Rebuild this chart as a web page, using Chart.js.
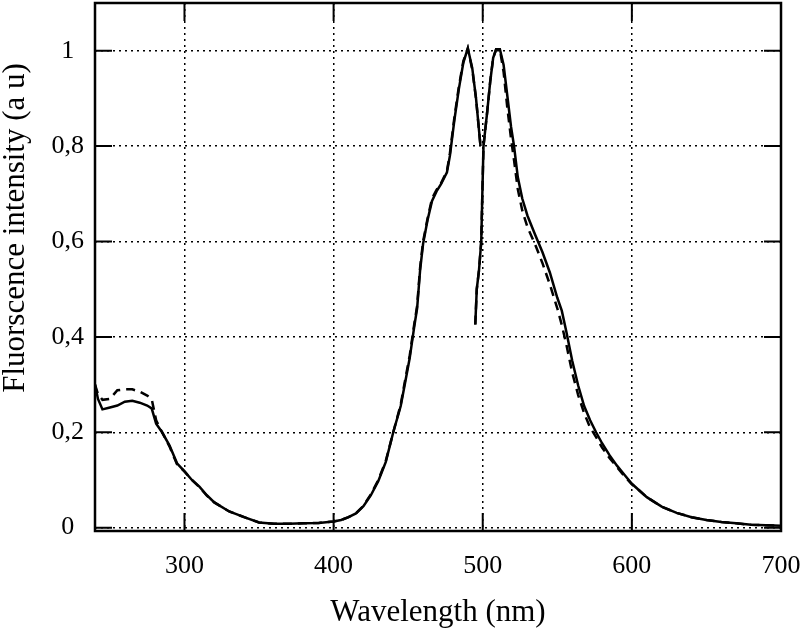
<!DOCTYPE html>
<html>
<head>
<meta charset="utf-8">
<title>Fluorescence spectra</title>
<script src="https://cdn.jsdelivr.net/npm/chart.js@4"></script>
<style>
  body { margin: 0; background: #fff; }
  canvas { display: block; }
</style>
</head>
<body>
<canvas id="myChart" width="800" height="637"></canvas>
<script>
// excitation spectrum (left peak)
const exWl = [240, 242, 245, 250, 255, 260, 265, 270, 275, 278, 281, 285, 290, 295, 300, 305, 310, 315, 320, 330, 340, 350, 360, 370, 380, 390, 400, 405, 410, 415, 420, 425, 430, 435, 440, 445, 448, 451, 454, 456, 458, 460, 463, 466, 469, 472, 476, 478, 481, 484, 487, 490, 493, 495.5, 498.5];
const exSolid = [0.30, 0.27, 0.248, 0.252, 0.256, 0.264, 0.266, 0.262, 0.256, 0.25, 0.218, 0.2, 0.172, 0.135, 0.118, 0.1, 0.086, 0.068, 0.053, 0.034, 0.022, 0.011, 0.008, 0.008, 0.009, 0.01, 0.013, 0.016, 0.022, 0.03, 0.045, 0.068, 0.098, 0.138, 0.2, 0.255, 0.305, 0.355, 0.42, 0.46, 0.54, 0.595, 0.645, 0.685, 0.705, 0.72, 0.745, 0.78, 0.855, 0.92, 0.975, 1.005, 0.963, 0.9, 0.8];
const exDashed = [0.30, 0.28, 0.268, 0.27, 0.288, 0.29, 0.29, 0.285, 0.277, 0.27, 0.225, 0.2, 0.17, 0.133, 0.118, 0.1, 0.085, 0.067, 0.053, 0.034, 0.022, 0.011, 0.008, 0.008, 0.009, 0.01, 0.013, 0.016, 0.022, 0.03, 0.046, 0.07, 0.1, 0.14, 0.2, 0.258, 0.31, 0.36, 0.425, 0.465, 0.545, 0.6, 0.648, 0.69, 0.708, 0.722, 0.748, 0.785, 0.86, 0.925, 0.978, 1.005, 0.96, 0.9, 0.8];

// emission spectrum (right peak)
const emWl = [495, 496, 497.5, 499, 499.8, 500.5, 503, 505, 507, 509, 511.5, 514, 516.5, 519, 521, 523.5, 526.5, 530, 535, 540, 545, 550, 553, 556, 560, 564, 568, 572, 576, 580, 585, 590, 595, 600, 605, 610, 620, 630, 640, 650, 660, 670, 680, 690, 700];
const emSolid = [0.426, 0.5, 0.54, 0.6, 0.71, 0.8, 0.872, 0.935, 0.985, 1.003, 1.003, 0.97, 0.905, 0.84, 0.8, 0.735, 0.69, 0.654, 0.615, 0.578, 0.535, 0.482, 0.455, 0.412, 0.35, 0.298, 0.255, 0.225, 0.2, 0.177, 0.152, 0.13, 0.111, 0.092, 0.078, 0.064, 0.044, 0.031, 0.022, 0.016, 0.012, 0.009, 0.006, 0.005, 0.004];
const emDashed = [0.426, 0.5, 0.54, 0.6, 0.71, 0.8, 0.872, 0.935, 0.985, 1.003, 1.003, 0.955, 0.88, 0.815, 0.77, 0.71, 0.665, 0.63, 0.595, 0.555, 0.51, 0.46, 0.425, 0.385, 0.325, 0.278, 0.24, 0.21, 0.19, 0.168, 0.146, 0.127, 0.108, 0.091, 0.078, 0.064, 0.044, 0.031, 0.022, 0.016, 0.012, 0.009, 0.006, 0.005, 0.004];

const xTicks = [300, 400, 500, 600, 700];
const yTicks = [0, 0.2, 0.4, 0.6, 0.8, 1];

const serif = "'Liberation Serif', 'Times New Roman', serif";

function toPoints(xs, ys) {
  var pts = [];
  for (var i = 0; i < xs.length; i++) {
    pts.push({ x: xs[i], y: ys[i] });
  }
  return pts;
}

function lineSet(xs, ys, dashed) {
  return {
    data: toPoints(xs, ys),
    showLine: true,
    borderColor: '#000',
    borderWidth: 2.5,
    borderDash: dashed ? [9, 6] : [],
    pointRadius: 0,
    tension: 0,
    fill: false
  };
}

// no extra room for the end labels, the frame is placed by hand
function noPad(scale) {
  scale.paddingTop = 0;
  scale.paddingBottom = 0;
  scale.paddingLeft = 0;
  scale.paddingRight = 0;
}

// box around the plot, inward tick marks and the rotated y title
const framePlugin = {
  id: 'frame',
  afterDraw(chart) {
    var c = chart.ctx;
    var a = chart.chartArea;
    var sx = chart.scales.x;
    var sy = chart.scales.y;
    c.save();
    c.strokeStyle = '#000';
    c.lineWidth = 2.5;
    c.strokeRect(a.left, a.top, a.right - a.left, a.bottom - a.top);
    c.lineWidth = 2;
    c.beginPath();
    xTicks.forEach(function (v) {
      var px = sx.getPixelForValue(v);
      c.moveTo(px, a.bottom); c.lineTo(px, a.bottom - 18);
      c.moveTo(px, a.top); c.lineTo(px, a.top + 18);
    });
    yTicks.forEach(function (v) {
      var py = sy.getPixelForValue(v);
      c.moveTo(a.left, py); c.lineTo(a.left + 17, py);
      c.moveTo(a.right, py); c.lineTo(a.right - 17, py);
    });
    c.stroke();

    c.translate(16, 228);
    c.rotate(-Math.PI / 2);
    c.fillStyle = '#000';
    c.font = '31px ' + serif;
    c.textAlign = 'center';
    c.textBaseline = 'middle';
    c.fillText('Fluorscence intensity (a u)', 0, 0);
    c.restore();
  }
};

new Chart(document.getElementById('myChart'), {
  type: 'scatter',
  data: {
    datasets: [
      lineSet(exWl, exDashed, true),
      lineSet(emWl, emDashed, true),
      lineSet(exWl, exSolid, false),
      lineSet(emWl, emSolid, false)
    ]
  },
  options: {
    responsive: false,
    animation: false,
    layout: { padding: { top: 3, right: 19, left: 0, bottom: 0 } },
    plugins: {
      legend: { display: false },
      tooltip: { enabled: false }
    },
    scales: {
      x: {
        type: 'linear',
        min: 240,
        max: 700,
        afterBuildTicks: function (scale) {
          scale.ticks = xTicks.map(function (v) { return { value: v }; });
        },
        afterFit: function (scale) { scale.height = 106; noPad(scale); },
        grid: { color: '#000', lineWidth: 1.5, drawTicks: false },
        border: { display: false, dash: [2, 4] },
        ticks: {
          color: '#000',
          padding: 20,
          maxRotation: 0,
          font: { family: serif, size: 26 }
        },
        title: {
          display: true,
          text: 'Wavelength (nm)',
          color: '#000',
          font: { family: serif, size: 31 },
          padding: { top: 0, bottom: 6 }
        }
      },
      y: {
        type: 'linear',
        min: -0.007,
        max: 1.1,
        afterBuildTicks: function (scale) {
          scale.ticks = yTicks.map(function (v) { return { value: v }; });
        },
        afterFit: function (scale) { scale.width = 95; noPad(scale); },
        grid: { color: '#000', lineWidth: 1.5, drawTicks: false },
        border: { display: false, dash: [2, 4] },
        ticks: {
          color: '#000',
          padding: 11,
          crossAlign: 'center',
          font: { family: serif, size: 26 },
          callback: function (v) { return String(v).replace('.', ','); }
        }
      }
    }
  },
  plugins: [framePlugin]
});
</script>
</body>
</html>
